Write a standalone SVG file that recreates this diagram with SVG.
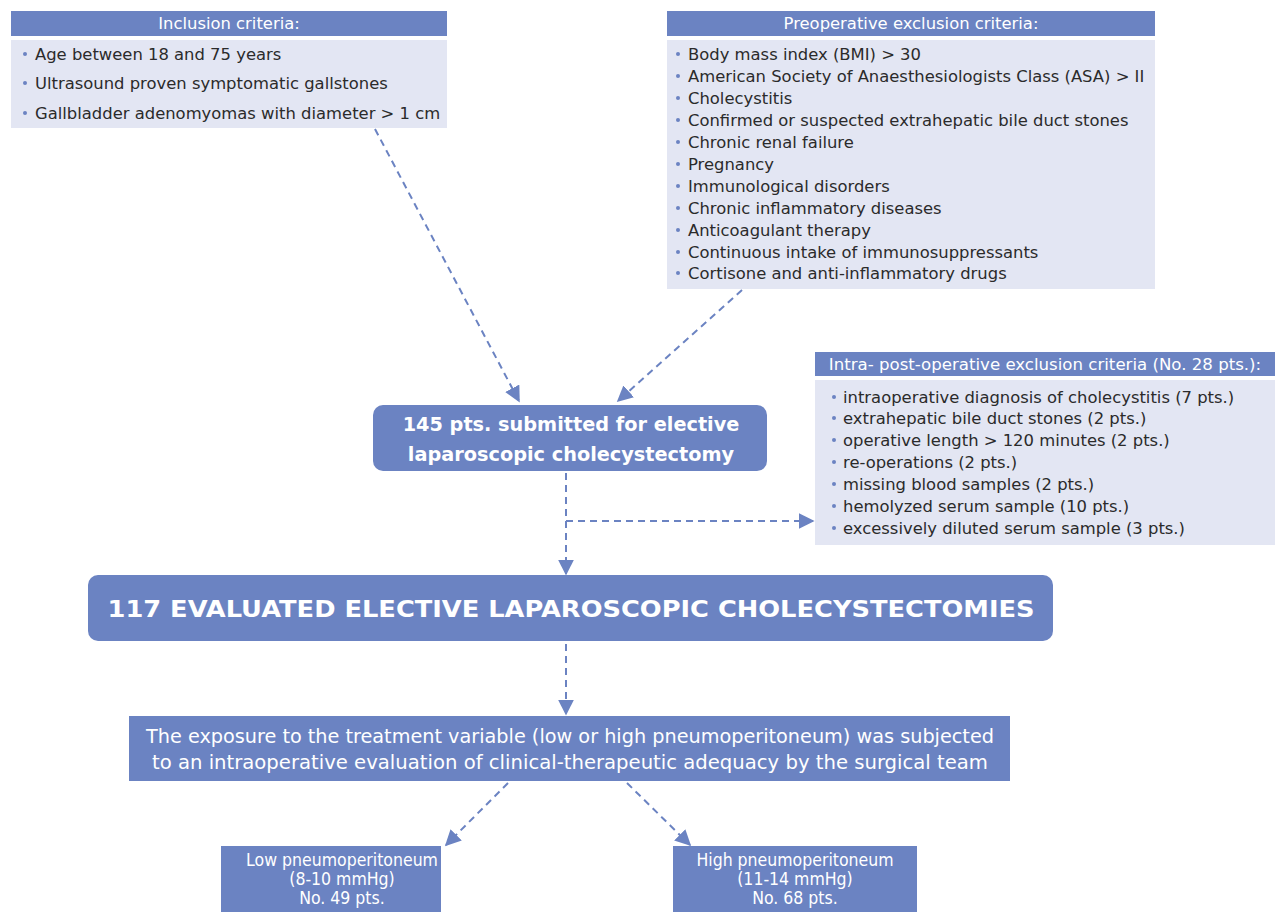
<svg xmlns="http://www.w3.org/2000/svg" width="1275" height="912" viewBox="0 0 1275 912">
<defs>
<style>
.hdr{fill:#6b83c2}
.body{fill:#e3e6f3}
.ht{font-family:"DejaVu Sans",Verdana,sans-serif;font-size:16.4px;fill:#fff;text-anchor:middle}
.it{font-family:"DejaVu Sans",Verdana,sans-serif;font-size:16.4px;fill:#2b2b2b}
.bul{fill:#6b83c2}
.bt{font-family:"DejaVu Sans",Verdana,sans-serif;font-weight:bold;fill:#fff;text-anchor:middle}
.ct{font-family:"DejaVu Sans",sans-serif;font-stretch:condensed;fill:#fff;text-anchor:middle}
.con{stroke:#6b83c2;stroke-width:2;stroke-dasharray:7,5;fill:none}
</style>
<marker id="ah2" viewBox="0 0 10 10" refX="9" refY="5" markerWidth="16" markerHeight="16" markerUnits="userSpaceOnUse" orient="auto">
<path d="M0,0 L10,5 L0,10 z" fill="#6b83c2"/>
</marker>
</defs>
<rect width="1275" height="912" fill="#fff"/>

<g id="connectors">
<path class="con" d="M375,129 L519,401" marker-end="url(#ah2)"/>
<path class="con" d="M742,290 L618,401" marker-end="url(#ah2)"/>
<path class="con" d="M566,473 L566,574" marker-end="url(#ah2)"/>
<path class="con" d="M566,521 L813,521" marker-end="url(#ah2)"/>
<path class="con" d="M566,644 L566,714" marker-end="url(#ah2)"/>
<path class="con" d="M508,783 L446,845" marker-end="url(#ah2)"/>
<path class="con" d="M627,783 L690,845" marker-end="url(#ah2)"/>
</g>

<g id="inclusion">
<rect class="hdr" x="11" y="11" width="436" height="25"/>
<text class="ht" x="229" y="29">Inclusion criteria:</text>
<rect class="body" x="11" y="40" width="436" height="88"/>
<circle class="bul" cx="25" cy="54" r="2"/>
<circle class="bul" cx="25" cy="83" r="2"/>
<circle class="bul" cx="25" cy="113" r="2"/>
<text class="it" x="35" y="59.5">Age between 18 and 75 years</text>
<text class="it" x="35" y="89">Ultrasound proven symptomatic gallstones</text>
<text class="it" x="35" y="118.5">Gallbladder adenomyomas with diameter &gt; 1 cm</text>
</g>

<g id="preoperative">
<rect class="hdr" x="667" y="11" width="488" height="25"/>
<text class="ht" x="911" y="29">Preoperative exclusion criteria:</text>
<rect class="body" x="667" y="40" width="488" height="249"/>
<g>
<circle class="bul" cx="678" cy="54" r="2"/>
<circle class="bul" cx="678" cy="76" r="2"/>
<circle class="bul" cx="678" cy="98" r="2"/>
<circle class="bul" cx="678" cy="120" r="2"/>
<circle class="bul" cx="678" cy="142" r="2"/>
<circle class="bul" cx="678" cy="164" r="2"/>
<circle class="bul" cx="678" cy="186" r="2"/>
<circle class="bul" cx="678" cy="208" r="2"/>
<circle class="bul" cx="678" cy="230" r="2"/>
<circle class="bul" cx="678" cy="252" r="2"/>
<circle class="bul" cx="678" cy="273" r="2"/>
</g>
<text class="it" x="688" y="59.5">Body mass index (BMI) &gt; 30</text>
<text class="it" x="688" y="81.5">American Society of Anaesthesiologists Class (ASA) &gt; II</text>
<text class="it" x="688" y="103.5">Cholecystitis</text>
<text class="it" x="688" y="125.5">Confirmed or suspected extrahepatic bile duct stones</text>
<text class="it" x="688" y="147.5">Chronic renal failure</text>
<text class="it" x="688" y="169.5">Pregnancy</text>
<text class="it" x="688" y="191.5">Immunological disorders</text>
<text class="it" x="688" y="213.5">Chronic inflammatory diseases</text>
<text class="it" x="688" y="235.5">Anticoagulant therapy</text>
<text class="it" x="688" y="257.5">Continuous intake of immunosuppressants</text>
<text class="it" x="688" y="278.5">Cortisone and anti-inflammatory drugs</text>
</g>

<g id="intrapost">
<rect class="hdr" x="815" y="352" width="460" height="24"/>
<text class="ht" x="1045" y="370" style="font-size:16.6px">Intra- post-operative exclusion criteria (No. 28 pts.):</text>
<rect class="body" x="815" y="380" width="460" height="165"/>
<g>
<circle class="bul" cx="834" cy="397" r="2"/>
<circle class="bul" cx="834" cy="418" r="2"/>
<circle class="bul" cx="834" cy="440" r="2"/>
<circle class="bul" cx="834" cy="462" r="2"/>
<circle class="bul" cx="834" cy="484" r="2"/>
<circle class="bul" cx="834" cy="506" r="2"/>
<circle class="bul" cx="834" cy="528" r="2"/>
</g>
<text class="it" x="843" y="402.5">intraoperative diagnosis of cholecystitis (7 pts.)</text>
<text class="it" x="843" y="423.5">extrahepatic bile duct stones (2 pts.)</text>
<text class="it" x="843" y="445.5">operative length &gt; 120 minutes (2 pts.)</text>
<text class="it" x="843" y="467.5">re-operations (2 pts.)</text>
<text class="it" x="843" y="489.5">missing blood samples (2 pts.)</text>
<text class="it" x="843" y="511.5">hemolyzed serum sample (10 pts.)</text>
<text class="it" x="843" y="533.5">excessively diluted serum sample (3 pts.)</text>
</g>

<g id="submitted">
<rect class="hdr" x="373" y="405" width="394" height="66" rx="10"/>
<text class="bt" x="571" y="431" style="font-size:19.3px">145 pts. submitted for elective</text>
<text class="bt" x="571" y="461" style="font-size:19.3px">laparoscopic cholecystectomy</text>
</g>

<g id="evaluated">
<rect class="hdr" x="88" y="575" width="965" height="66" rx="10"/>
<text class="bt" x="571" y="617" style="font-size:23px" textLength="927" lengthAdjust="spacingAndGlyphs">117 EVALUATED ELECTIVE LAPAROSCOPIC CHOLECYSTECTOMIES</text>
</g>

<g id="treatment">
<rect class="hdr" x="129" y="716" width="881" height="65"/>
<text class="ct" x="570" y="743" style="font-size:19px" textLength="848" lengthAdjust="spacingAndGlyphs">The exposure to the treatment variable (low or high pneumoperitoneum) was subjected</text>
<text class="ct" x="570" y="769" style="font-size:19px" textLength="836" lengthAdjust="spacingAndGlyphs">to an intraoperative evaluation of clinical-therapeutic adequacy by the surgical team</text>
</g>

<g id="low">
<rect class="hdr" x="221" y="846" width="220" height="70"/>
<text class="ct" x="342" y="866" style="font-size:17.5px">Low pneumoperitoneum</text>
<text class="ct" x="342" y="885" style="font-size:17.5px">(8-10 mmHg)</text>
<text class="ct" x="342" y="904" style="font-size:17.5px">No. 49 pts.</text>
</g>

<g id="high">
<rect class="hdr" x="673" y="846" width="244" height="70"/>
<text class="ct" x="795" y="866" style="font-size:17.5px">High pneumoperitoneum</text>
<text class="ct" x="795" y="885" style="font-size:17.5px">(11-14 mmHg)</text>
<text class="ct" x="795" y="904" style="font-size:17.5px">No. 68 pts.</text>
</g>
</svg>
